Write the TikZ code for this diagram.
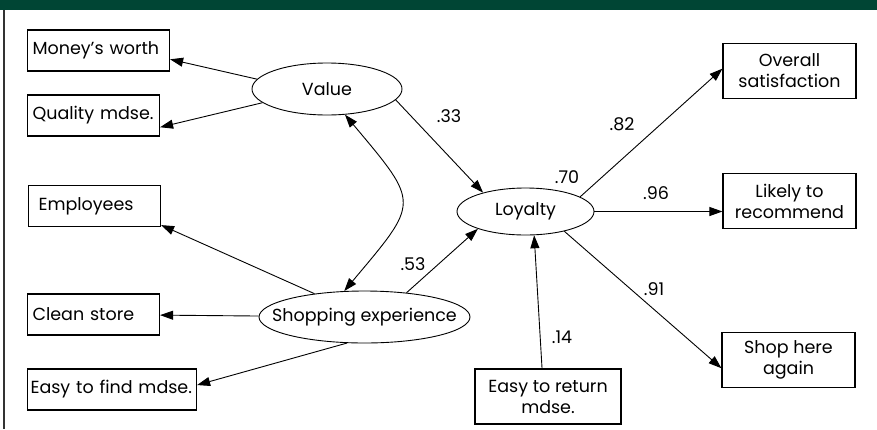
\documentclass[tikz,border=0pt]{standalone}
\usepackage{fontspec}
\setmainfont{Poppins}
\usetikzlibrary{positioning,arrows.meta,shapes.geometric}
\definecolor{bargreen}{RGB}{0,69,52}

\begin{document}
\begin{tikzpicture}[
  x=1pt, y=-1pt,
  line width=0.9pt,
  >={Triangle[length=13pt,width=9pt]},
  every node/.style={font=\fontsize{17.5}{21}\selectfont},
  latent/.style={draw, ellipse, inner sep=0pt},
  ind/.style={draw, line width=1.1pt, anchor=west, text width=#1,
    align=left, inner xsep=5pt, minimum height=41pt},
  outc/.style={draw, line width=1.1pt, align=center,
    minimum width=133pt, minimum height=55pt, inner sep=2pt},
  coef/.style={inner sep=0pt}
]
\useasboundingbox (0,0) rectangle (877,429);

% top band and frame
\fill[bargreen] (0,0) rectangle (877,10);
\draw[line width=1.3pt, black!80] (4,10) -- (4,429);

% latent variables
\node[latent, minimum width=150pt, minimum height=52pt] (val) at (327,89)
  {\makebox[0pt]{Value}};
\node[latent, minimum width=211pt, minimum height=52pt] (shop) at (364.5,317)
  {\makebox[0pt]{Shopping experience}};
\node[latent, minimum width=137pt, minimum height=47pt] (loy) at (525.5,211.5)
  {\makebox[0pt]{Loyalty}};

% indicators on the left
\node[ind=132pt] (money) at (27,50.5) {Money’s worth};
\node[ind=122pt] (qual) at (27,115.5) {Quality mdse.};
\node[ind=112pt, inner xsep=10pt] (empl) at (28,206) {Employees};
\node[ind=122pt] (clean) at (27,314.5) {Clean store};
\node[ind=163pt, inner xsep=3pt] (find) at (27,389.5) {Easy to find mdse.};

% outcomes
\node[outc] (sat) at (789.5,71) {Overall\\satisfaction};
\node[outc] (rec) at (789.5,201) {Likely to\\recommend};
\node[outc] (again) at (788.5,360) {Shop here\\again};
\node[outc, minimum width=146pt] (ret) at (548,396.5) {Easy to return\\mdse.};

% paths
\draw[->] (val.172) -- (money.-7);
\draw[->] (val.192) -- (qual.-10);
\draw[->] (val.-9) -- (loy.156);
\draw[<->] (val.-55) to[out=-50, in=50, looseness=1.7] (shop.128);
\draw[->] (shop.155) -- (empl.-16);
\draw[->] (shop) -- (clean);
\draw[->] (shop.236) -- (find.3);
\draw[->] (shop.30) -- (loy.200);
\draw[->] (ret.102) -- (loy.-70);
\draw[->] (loy.15) -- (sat.178);
\draw[->] (loy.east) -- (loy.east -| rec.west);
\draw[->] (loy.-27) -- (again.187);

% coefficients
\node[coef] (c33) at (449,116) {.33};
\node[coef] (c82) at (622,124) {.82};
\node[coef] (c70) at (567,177) {.70};
\node[coef] (c96) at (656,193) {.96};
\node[coef] (c53) at (413,264) {.53};
\node[coef] (c91) at (654,289) {.91};
\node[coef] (c14) at (562,337) {.14};
\end{tikzpicture}
\end{document}
